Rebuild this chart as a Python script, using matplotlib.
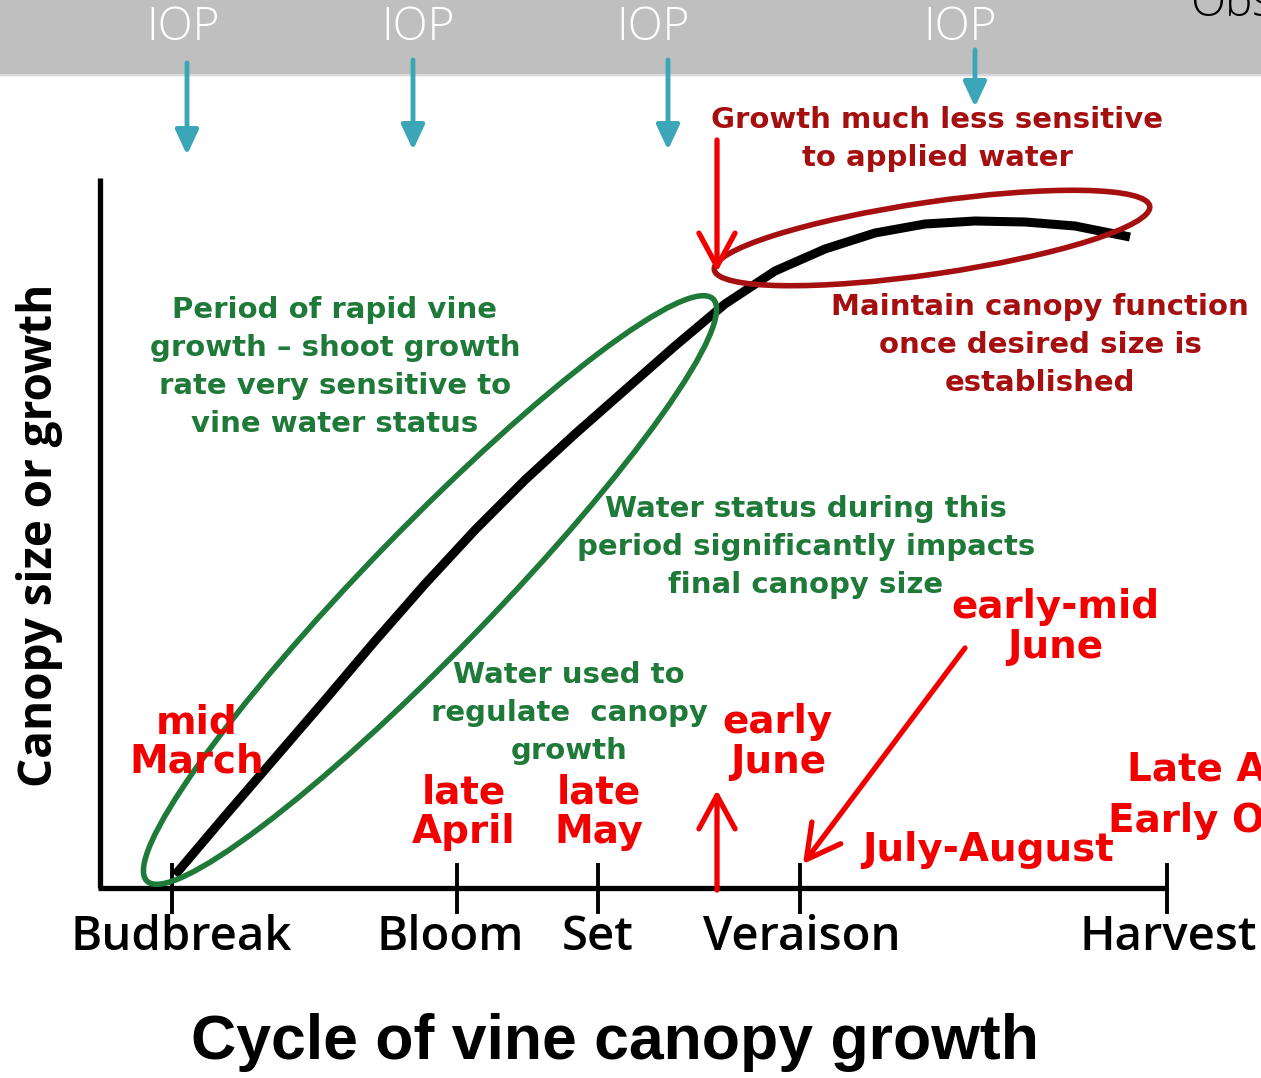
import matplotlib
matplotlib.use('Agg')
import matplotlib.pyplot as plt
from matplotlib.patches import Ellipse, Rectangle

# growth stages along the season axis
stages = ['Budbreak', 'Bloom', 'Set', 'Veraison', 'Harvest']
stage_x = [172, 457, 598, 800, 1167]
stage_label_x = [181, 450, 598, 802, 1168]

# canopy growth curve (pixel units)
curve_x = [175, 225, 275, 325, 375, 425, 475, 525, 575, 625, 675, 725, 775, 825, 875, 925, 975, 1025, 1075, 1130]
curve_y = [875, 816, 758, 700, 641, 584, 530, 480, 434, 390, 346, 304, 271, 249, 233, 224, 221, 222, 226, 237]

# IOP markers on the top band
iop_x = [183, 418, 653, 960]
iop_arrow_x = [187, 413, 668, 975]
iop_arrow_top = [63, 60, 60, 50]
iop_arrow_tip = [155, 150, 150, 107]

# calendar dates (red)
date_labels = ['mid\nMarch', 'late\nApril', 'late\nMay', 'early\nJune', 'early-mid\nJune', 'July-August']
date_xy = [(197, 742), (464, 812), (599, 812), (778, 742), (1055, 627), (988, 850)]

green_notes = ['Period of rapid vine\ngrowth – shoot growth\nrate very sensitive to\nvine water status',
               'Water status during this\nperiod significantly impacts\nfinal canopy size',
               'Water used to\nregulate  canopy\ngrowth']
green_xy = [(335, 367), (806, 547), (569, 713)]

red_notes = ['Growth much less sensitive\nto applied water',
             'Maintain canopy function\nonce desired size is\nestablished']
red_xy = [(937, 139), (1040, 345)]

TEAL = '#3aa6b7'
GREEN = '#1f7a3a'
DARKRED = '#a50f0f'
RED = '#f20000'

fig = plt.figure(figsize=(12.61, 10.78), dpi=100)
ax = fig.add_axes([0, 0, 1, 1])
ax.set_xlim(0, 1261)
ax.set_ylim(1078, 0)
ax.axis('off')

# grey header band
ax.add_patch(Rectangle((0, 0), 1261, 75, color='#bfbfbf', zorder=0))
ax.plot([0, 1261], [75, 75], color='#d9d9d9', lw=1.5)
for x in iop_x:
    ax.text(x, 28, 'IOP', color='white', fontsize=33, family='Open Sans',
            fontweight='light', ha='center', va='center')
ax.text(1190, 4, 'Obs', color='black', fontsize=33, family='Open Sans',
        fontweight='light', ha='left', va='center')
for x, y0, y1 in zip(iop_arrow_x, iop_arrow_top, iop_arrow_tip):
    ax.annotate('', xy=(x, y1), xytext=(x, y0),
                arrowprops=dict(arrowstyle='-|>,head_width=0.7,head_length=1.5',
                                color=TEAL, lw=3.5, shrinkA=0, shrinkB=0))

# axes of the diagram
ax.plot([100, 100], [178, 888], color='black', lw=3.8, solid_capstyle='butt')
ax.plot([98, 1168], [888, 888], color='black', lw=3.8, solid_capstyle='butt')
for x, lx, lab in zip(stage_x, stage_label_x, stages):
    ax.plot([x, x], [865, 912], color='black', lw=2.8)
    ax.text(lx, 938, lab, fontsize=34, family='Open Sans',
            fontweight='semibold', ha='center', va='center')

ax.text(40, 535, 'Canopy size or growth', rotation=90, fontsize=33, family='Open Sans',
        fontweight='bold', ha='center', va='center')
ax.text(615, 1043, 'Cycle of vine canopy growth', fontsize=45, family='Liberation Sans',
        fontweight='bold', ha='center', va='center')

# growth curve
ax.plot(curve_x, curve_y, color='black', lw=6.5, solid_capstyle='butt',
        solid_joinstyle='round', zorder=3)

# highlighted periods
ax.add_patch(Ellipse((430, 590), 812, 125, angle=-45.8, fill=False, ec=GREEN, lw=4, zorder=4))
ax.add_patch(Ellipse((932, 238), 440, 72, angle=-8.3, fill=False, ec=DARKRED, lw=4, zorder=4))

# notes
for txt, (x, y) in zip(green_notes, green_xy):
    ax.text(x, y, txt, color=GREEN, fontsize=21, family='DejaVu Sans', fontweight='bold',
            ha='center', va='center', linespacing=1.45)
for txt, (x, y) in zip(red_notes, red_xy):
    ax.text(x, y, txt, color=DARKRED, fontsize=21, family='DejaVu Sans', fontweight='bold',
            ha='center', va='center', linespacing=1.45)
for txt, (x, y) in zip(date_labels, date_xy):
    ax.text(x, y, txt, color=RED, fontsize=28, family='DejaVu Sans', fontweight='bold',
            ha='center', va='center', linespacing=1.05, zorder=5)
ax.text(1127, 770, 'Late August –', color=RED, fontsize=28, family='DejaVu Sans',
        fontweight='bold', ha='left', va='center')
ax.text(1108, 821, 'Early October', color=RED, fontsize=28, family='DejaVu Sans',
        fontweight='bold', ha='left', va='center')

# red pointer arrows
red_arrows = [((717, 140), (717, 272)), ((717, 890), (717, 790)), ((965, 648), (803, 864))]
for (x0, y0), (x1, y1) in red_arrows:
    ax.annotate('', xy=(x1, y1), xytext=(x0, y0),
                arrowprops=dict(arrowstyle='->,head_width=1.3,head_length=2.4',
                                color=RED, lw=3.8, shrinkA=0, shrinkB=0), zorder=6)

fig.savefig('out.png', dpi=100)
